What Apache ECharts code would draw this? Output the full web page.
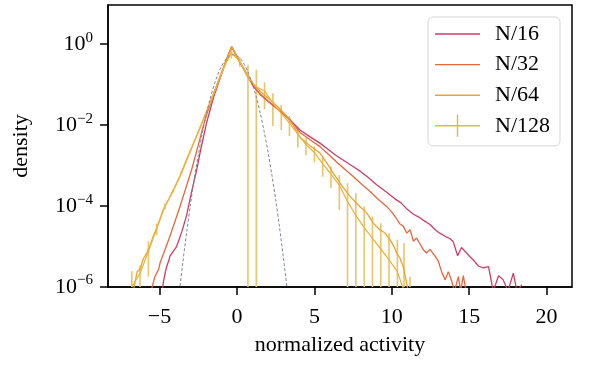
<!DOCTYPE html>
<html><head><meta charset="utf-8">
<script src="https://cdn.jsdelivr.net/npm/echarts@6/dist/echarts.min.js"></script>
<style>html,body{margin:0;padding:0;background:#fff}#c{width:600px;height:367px}</style>
</head><body><div id="c"></div>
<script>
// ---- data (density values) ----
const xTicks = [-5, 0, 5, 10, 15, 20];
const yTickExps = [-6, -4, -2, 0];
const seriesNames = ['N/16', 'N/32', 'N/64', 'N/128'];

const n16X = [-4.90,-4.76,-4.62,-4.54,-4.40,-4.33,-4.12,-3.90,-3.55,-3.25,-2.95,-2.60,-2.35,-1.95,-1.50,-1.00,-0.60,-0.34,
  0.20,0.63,1.05,1.50,2.10,2.70,3.20,3.70,4.07,4.70,5.36,5.90,6.40,7.00,7.50,8.00,8.50,9.00,9.67,10.20,10.60,11.00,11.40,11.80,12.10,12.47,12.80,13.10,13.50,13.75,13.97,14.25,14.50,14.80,15.05,15.30,15.60,15.90,16.25,16.55,16.90,17.20,17.50,17.85,18.08,18.40];
const n16Y = [5.0e-7,1.26e-6,2.4e-6,3.2e-6,4.5e-6,5.8e-6,7.6e-6,1.0e-5,2.4e-5,6.0e-5,2.1e-4,7.9e-4,2.4e-3,1.2e-2,5.0e-2,0.182,0.50,0.87,
  0.355,0.178,0.093,0.0575,0.0363,0.024,0.0166,0.0105,0.0076,0.0052,0.0036,0.0025,0.00178,0.00126,9.5e-4,7.1e-4,5.0e-4,3.4e-4,2.19e-4,1.51e-4,1.2e-4,8.3e-5,6.3e-5,5.2e-5,4.3e-5,3.5e-5,2.6e-5,2.14e-5,1.74e-5,1.58e-5,1.32e-5,5.9e-6,9.5e-6,7.1e-6,5.6e-6,4.5e-6,3.3e-6,2.95e-6,3.2e-6,7.9e-7,1.9e-6,1.5e-6,7.9e-7,2.2e-6,7.9e-7,1.12e-6];

const n32X = [-5.55,-5.41,-5.30,-5.20,-5.05,-4.97,-4.65,-4.33,-4.00,-3.68,-3.30,-2.93,-2.50,-2.07,-1.50,-1.00,-0.60,-0.34,
  0.20,0.63,1.05,1.50,2.10,2.70,3.20,3.70,4.07,4.70,5.36,5.90,6.40,7.00,7.51,8.00,8.60,9.10,9.67,10.00,10.32,10.53,10.74,10.97,11.18,11.40,11.60,11.82,12.04,12.25,12.47,12.79,13.00,13.25,13.45,13.65,13.86,14.05,14.30,14.45,14.62,14.80];
const n32Y = [7.9e-7,1.26e-6,1.8e-6,1.74e-6,2.8e-6,3.9e-6,8.3e-6,1.8e-5,4.2e-5,9.8e-5,2.8e-4,7.9e-4,3.2e-3,1.35e-2,6.0e-2,0.20,0.50,0.87,
  0.355,0.182,0.095,0.059,0.037,0.0234,0.0158,0.010,0.0066,0.0044,0.00295,0.0019,0.00126,7.9e-4,5.4e-4,3.6e-4,2.3e-4,1.5e-4,9.8e-5,7.1e-5,4.8e-5,3.6e-5,3.2e-5,2.14e-5,2.6e-5,1.35e-5,1.62e-5,1.17e-5,8.3e-6,6.9e-6,8.5e-6,5.8e-6,4.4e-6,2.2e-6,1.5e-6,2.4e-6,1.45e-6,7.9e-7,1.8e-6,7.9e-7,1.9e-6,7.9e-7];

const n64X = [-6.80,-6.59,-6.45,-6.27,-6.05,-5.83,-5.62,-5.41,-5.10,-4.76,-4.40,-4.05,-3.68,-3.20,-2.70,-2.18,-1.70,-1.20,-0.75,-0.34,
  0.20,0.63,1.05,1.50,2.13,2.70,3.21,3.70,4.07,4.70,5.36,5.80,6.22,6.75,7.30,7.85,8.38,8.80,9.24,9.55,9.88,10.10,10.32,10.52,10.74,10.96,11.10];
const n64Y = [5.0e-7,1.26e-6,2.4e-6,2.7e-6,5.0e-6,6.9e-6,1.05e-5,1.8e-5,3.5e-5,8.1e-5,1.5e-4,2.8e-4,5.6e-4,1.58e-3,4.5e-3,1.35e-2,3.8e-2,0.117,0.34,0.87,
  0.363,0.19,0.105,0.069,0.0427,0.0269,0.0166,0.0091,0.005,0.00316,0.00204,0.00117,6.5e-4,3.3e-4,1.74e-4,1.05e-4,6.8e-5,3.8e-5,2.57e-5,2.19e-5,1.48e-5,1.07e-5,6.9e-6,5.2e-6,3.2e-6,1.26e-6,6.3e-7];

const n128X = [-6.79,-6.26,-5.72,-5.18,-4.65,-4.11,-3.58,-3.04,-2.50,-1.97,-1.43,-0.90,-0.36,
  0.18,0.71,1.25,1.78,2.32,2.86,3.39,3.93,4.46,5.00,5.54,6.07,6.61,7.14,7.68,8.22,8.75,9.29,9.82,10.36,10.79,11.18];
const n128Y = [1.0e-6,2.2e-6,7.6e-6,2.8e-5,1.0e-4,2.4e-4,6.6e-4,2.1e-3,6.8e-3,2.2e-2,7.4e-2,0.24,0.62,
  0.38,0.15,0.088,0.07,0.0355,0.0196,0.0112,0.006,0.0033,0.0021,0.0011,6.2e-4,3.3e-4,1.3e-4,5.9e-5,2.95e-5,1.6e-5,8.7e-6,4.7e-6,2.4e-6,8.0e-7,5.0e-7];
const n128Err = [1.45e-6,1.2e-6,5.8e-6,9e-6,1.6e-5,2.5e-5,4e-5,8e-5,2e-4,5e-4,1.5e-3,4e-3,0.18,
  0.10,0.16,0.145,0.045,0.026,0.012,0.0058,0.0032,0.0015,0.0009,0.00057,3.4e-4,2.5e-4,2.4e-4,1.5e-4,6.9e-5,3.9e-5,2.9e-5,1.67e-5,1.24e-5,1.15e-5,1.3e-6];

const gaussX = [-3.75,-3.5,-3.25,-3.0,-2.75,-2.5,-2.25,-2.0,-1.75,-1.5,-1.25,-1.0,-0.75,-0.5,-0.25,0,0.25,0.5,0.75,1.0,1.25,1.5,1.75,2.0,2.25,2.5,2.75,3.0,3.25];
const gaussY = [6.0e-7,4.0e-6,2.24e-5,1.12e-4,4.9e-4,1.82e-3,6.0e-3,1.70e-2,4.27e-2,9.3e-2,0.174,0.285,0.407,0.507,0.55,0.519,0.427,0.305,0.190,0.103,0.049,0.020,0.0071,0.00224,6.0e-4,1.45e-4,2.95e-5,5.2e-6,8.3e-7];

// ---- build ----
const colors = {'N/16':'#cc3d66','N/32':'#e8663c','N/64':'#f0a22c','N/128':'#e8b640'};
const barColor = '#e9c46c';
const FONT = 'Liberation Serif';
const pairs = (xs, ys) => xs.map((x, i) => [x, Math.log10(ys[i])]);
const minus = v => v < 0 ? '\u2212' + (-v) : String(v);
const errData = n128X.map((x, i) => {
  const lo = n128Y[i] - n128Err[i];
  return [x, lo > 0 ? Math.log10(lo) : -9, Math.log10(n128Y[i] + n128Err[i])];
});
const lineIcon = 'path://M0,10.2L45,10.2L45,11.6L0,11.6Z';
const crossIcon = 'path://M0,10.2L45,10.2L45,11.6L0,11.6ZM21.8,0L23.2,0L23.2,22L21.8,22Z';

const mkLine = (name, xs, ys) => ({
  name, type: 'line', data: pairs(xs, ys), symbol: 'none', showSymbol: false,
  lineStyle: {color: colors[name], width: 1.3}, itemStyle: {color: colors[name]},
  clip: true, silent: true, animation: false
});

const chart = echarts.init(document.getElementById('c'), null, {renderer: 'canvas'});
chart.setOption({
  animation: false,
  grid: {left: 108, right: 28, top: 5, bottom: 80, show: true, borderColor: '#000', borderWidth: 1.5, backgroundColor: 'transparent'},
  legend: {
    orient: 'vertical', right: 40, top: 17,
    backgroundColor: '#fff', borderColor: '#d4d4d4', borderWidth: 1, borderRadius: 5,
    padding: [6, 10, 9, 7], itemWidth: 45, itemHeight: 22, itemGap: 8.6, symbolKeepAspect: true,
    textStyle: {fontFamily: FONT, fontSize: 22, color: '#000', padding: [0, 0, 0, 10]},
    data: seriesNames.map(n => ({name: n, icon: n === 'N/128' ? crossIcon : lineIcon, itemStyle: {color: colors[n], borderWidth: 0}}))
  },
  xAxis: {
    type: 'value', min: -8.33, max: 21.64,
    name: 'normalized activity', nameLocation: 'middle', nameGap: 47,
    nameTextStyle: {fontFamily: FONT, fontSize: 22, color: '#000'},
    axisLine: {show: true, onZero: false, lineStyle: {color: '#000', width: 1.5}},
    axisTick: {show: true, length: 8, lineStyle: {color: '#000', width: 1.5}, customValues: xTicks},
    axisLabel: {customValues: xTicks, margin: 19, fontFamily: FONT, fontSize: 22, color: '#000', formatter: v => minus(v)},
    splitLine: {show: false}
  },
  yAxis: {
    type: 'value', min: -6, max: 0.97,
    name: 'density', nameLocation: 'middle', nameGap: 76,
    nameTextStyle: {fontFamily: FONT, fontSize: 22, color: '#000'},
    axisLine: {show: true, onZero: false, lineStyle: {color: '#000', width: 1.5}},
    axisTick: {show: true, length: 8, lineStyle: {color: '#000', width: 1.5}, customValues: yTickExps},
    axisLabel: {
      customValues: yTickExps, margin: 15, color: '#000',
      formatter: v => '{b|10}{s|' + minus(v) + '}',
      rich: {
        b: {fontFamily: FONT, fontSize: 22, color: '#000', lineHeight: 28},
        s: {fontFamily: FONT, fontSize: 15, color: '#000', verticalAlign: 'top', lineHeight: 15}
      }
    },
    splitLine: {show: false}
  },
  series: [
    mkLine('N/16', n16X, n16Y),
    mkLine('N/32', n32X, n32Y),
    mkLine('N/64', n64X, n64Y),
    mkLine('N/128', n128X, n128Y),
    {
      name: 'N/128', type: 'custom', data: errData, clip: true, silent: true, animation: false,
      encode: {x: 0, y: [1, 2]},
      renderItem: (params, api) => {
        const p1 = api.coord([api.value(0), api.value(1)]);
        const p2 = api.coord([api.value(0), api.value(2)]);
        return {type: 'line', shape: {x1: p1[0], y1: p1[1], x2: p2[0], y2: p2[1]}, style: {stroke: barColor, lineWidth: 1.6}};
      }
    },
    {
      name: 'gauss', type: 'line', data: pairs(gaussX, gaussY), symbol: 'none', showSymbol: false, smooth: 0.3,
      lineStyle: {color: '#7d8694', width: 1, type: [3, 2]}, clip: true, silent: true, animation: false, z: 3
    }
  ]
});
</script></body></html>
